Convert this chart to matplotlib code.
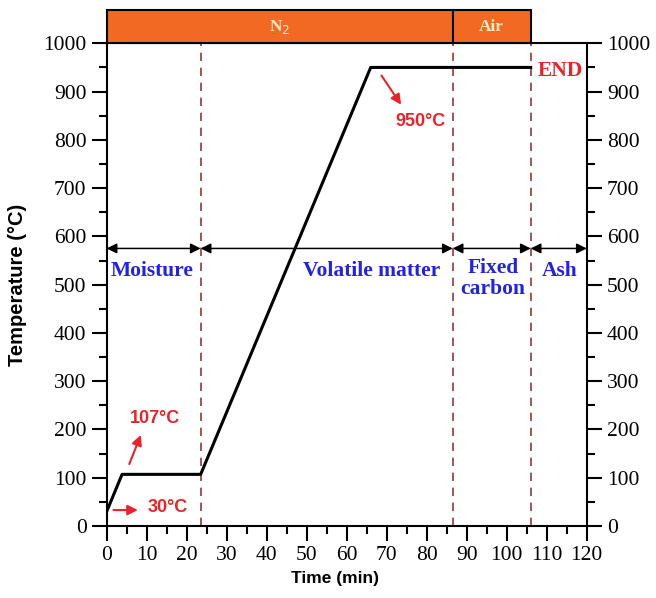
import matplotlib
matplotlib.use("Agg")
import matplotlib.pyplot as plt
from matplotlib.patches import Rectangle

# profil suhu (menit, degC)
time_pts = [0, 3.85, 23.5, 66, 106]
temp_pts = [30, 107, 107, 950, 950]

# batas tahap
stage_edges = [0, 23.5, 86.5, 106, 120]
stage_names = ["Moisture", "Volatile matter", "Fixed\ncarbon", "Ash"]
stage_label_x = [11.3, 66.3, 96.6, 113.2]
stage_label_y = [528, 528, 512, 528]
stage_arrow_y = 575

# gas atmosfer
gas_names = ["N$_2$", "Air"]
gas_edges = [0, 86.5, 106]

serif = "Liberation Serif"
sans = "Liberation Sans"
red = "#e8242a"
blue = "#2222e6"
dash_col = "#8c3b3b"

fig = plt.figure(figsize=(6.56, 5.98), dpi=100)
ax = fig.add_axes([0.1626, 0.1204, 0.7318, 0.8072])

ax.plot(time_pts, temp_pts, color="black", lw=2.2, zorder=4)

# garis putus-putus vertikal
for xv in stage_edges[1:4]:
    ax.plot([xv, xv], [0, 1000], ls=(0, (5, 4)), color=dash_col, lw=1.2, zorder=2)

# panah tahap
for i in range(len(stage_names)):
    ax.annotate("", xy=(stage_edges[i + 1], stage_arrow_y), xytext=(stage_edges[i], stage_arrow_y),
                arrowprops=dict(arrowstyle="<|-|>", color="black", lw=1.1,
                                mutation_scale=15, shrinkA=0, shrinkB=0))
    ax.text(stage_label_x[i], stage_label_y[i], stage_names[i], color=blue, ha="center", va="center",
            fontfamily=serif, fontweight="bold", fontsize=15.5, linespacing=1.05)

# bar gas di atas
for i in range(len(gas_names)):
    x0, x1 = gas_edges[i], gas_edges[i + 1]
    ax.add_patch(Rectangle((x0, 1000), x1 - x0, 68, facecolor="#f26a21", edgecolor="black",
                           lw=1.5, clip_on=False, zorder=5))
    ax.text((x0 + x1) / 2, 1034, gas_names[i], color="#fde9c8", ha="center", va="center",
            fontfamily=serif, fontweight="bold", fontsize=12.5, zorder=6)

# anotasi merah
ax.annotate("", xy=(8.5, 33), xytext=(1.0, 33),
            arrowprops=dict(arrowstyle="-|>", color=red, lw=1.5, mutation_scale=15))
ax.text(15.2, 38, "30°C", color=red, ha="center", va="center", fontfamily=sans,
        fontweight="bold", fontsize=13)
ax.annotate("", xy=(8.8, 194), xytext=(5.4, 123),
            arrowprops=dict(arrowstyle="-|>", color=red, lw=1.5, mutation_scale=15))
ax.text(12.0, 222, "107°C", color=red, ha="center", va="center", fontfamily=sans,
        fontweight="bold", fontsize=13)
ax.annotate("", xy=(74.0, 868), xytext=(68.3, 938),
            arrowprops=dict(arrowstyle="-|>", color=red, lw=1.5, mutation_scale=15))
ax.text(78.5, 838, "950°C", color=red, ha="center", va="center", fontfamily=sans,
        fontweight="bold", fontsize=13)
ax.text(113.4, 942, "END", color=red, ha="center", va="center", fontfamily=serif,
        fontweight="bold", fontsize=15.5)

ax.set_xlim(0, 120)
ax.set_ylim(0, 1000)
ax.set_xticks(range(0, 121, 10))
ax.set_xticks(range(5, 120, 10), minor=True)
ax.set_yticks(range(0, 1001, 100))
ax.set_yticks(range(50, 1000, 100), minor=True)
ax.tick_params(which="both", direction="out", width=1.5, labelsize=15.5,
               left=True, right=True, labelright=True, bottom=True, top=False)
ax.tick_params(which="major", length=11)
ax.tick_params(which="minor", length=5.5)
for lab in ax.get_xticklabels() + ax.get_yticklabels():
    lab.set_fontfamily(serif)
for s in ax.spines.values():
    s.set_linewidth(1.5)

ax.set_xlabel("Time (min)", fontfamily=sans, fontweight="bold", fontsize=12.5)
ax.set_ylabel("Temperature (°C)", fontfamily=sans, fontweight="bold", fontsize=14.5)
ax.xaxis.set_label_coords(0.475, -0.094)
ax.yaxis.set_label_coords(-0.166, 0.5)

fig.savefig("out.png", dpi=100)
